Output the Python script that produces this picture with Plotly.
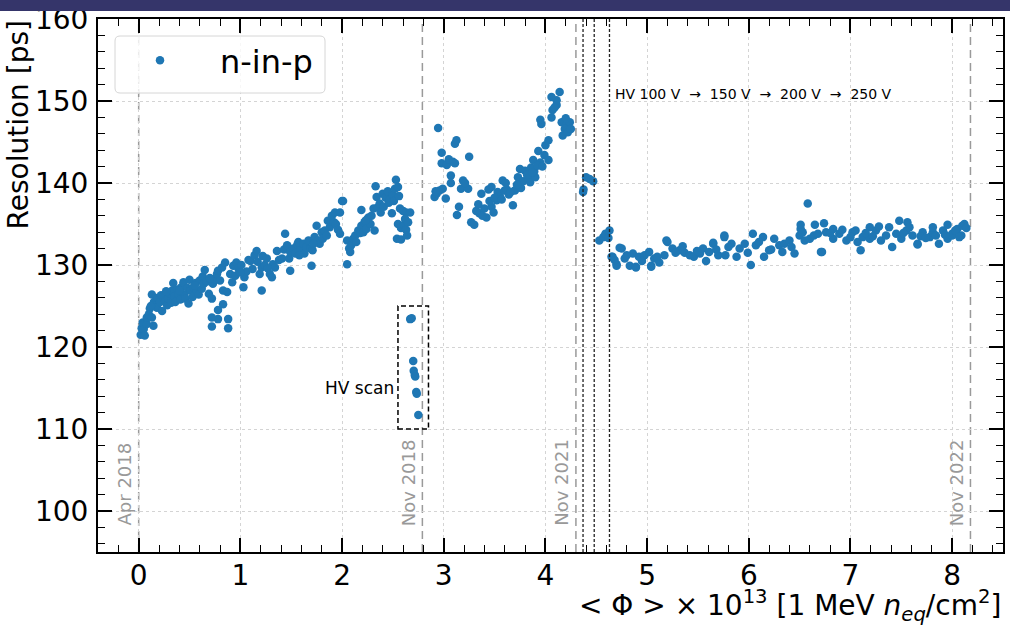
import plotly.graph_objects as go

# ---- data ----
seg2018_x = [0.02,0.03,0.05,0.06,0.04,0.08,0.08,0.10,0.11,0.13,0.13,0.145,0.15,0.16,0.18,0.19,0.21,0.22,0.23,0.24,
             0.26,0.28,0.29,0.30,0.32,0.33,0.34,0.35,0.36,0.38,0.39,0.41,0.42,0.44,0.45,0.46,0.48,0.49,0.50,0.51,
             0.53,0.54,0.56,0.57,0.59,0.60,0.62,0.63,0.64,0.65,0.67,0.69,0.72,0.73,0.75,0.77,0.78,0.80,0.82,0.83,
             0.85,0.87,0.78,0.83,0.78,0.72,0.72,0.88,0.88,0.90,0.92,0.93,0.95,0.96,0.98,0.99,1.01,1.03,1.04,1.06,
             1.08,1.10,1.12,1.14,1.16,1.17,1.19,1.21,1.22,1.21,1.24,1.26,1.29,1.31,1.32,1.34,1.36,1.38,1.41,1.43,
             1.44,1.46,1.48,1.49,1.49,1.52,1.54,1.56,1.57,1.59,1.62,1.63,1.65,1.67,1.69,1.70,1.71,1.73,1.75,1.76,
             1.78,1.80,1.81,1.83,1.85,1.86,1.88,1.90,1.92,1.93,1.94,1.96,1.98,1.98,2.00,2.01,2.05,2.05,2.07,2.08,
             2.09,2.11,2.13,2.14,2.16,2.18,2.19,2.19,2.21,2.22,2.24,2.25,2.26,2.28,2.29,2.31,2.32,2.34,2.33,2.35,
             2.37,2.38,2.40,2.41,2.43,2.45,2.46,2.47,2.49,2.50,2.51,2.52,2.53,2.55,2.56,2.57,2.60,2.63,2.67,2.55,
             2.58,2.61,2.63,2.54,2.58,2.64,2.62,2.65,0.12,0.27,0.40,0.55,0.70,1.00,1.27,1.58,1.72,2.23]
seg2018_y = [121.5,122.3,122.2,121.4,123.0,122.8,123.6,124.0,124.7,123.6,126.4,122.6,125.5,125.1,124.8,126.0,125.5,126.3,124.4,126.1,
             125.6,125.1,125.9,126.6,125.4,126.9,127.8,126.2,125.5,127.0,126.5,125.8,127.3,127.9,126.4,125.9,127.2,125.3,128.2,126.9,
             126.1,127.3,127.8,126.9,126.4,128.1,127.1,128.6,127.7,129.4,128.0,126.5,125.9,127.7,128.3,128.9,129.3,128.1,129.7,126.9,
             130.3,126.7,124.5,125.2,123.4,123.6,122.5,123.4,122.3,128.9,127.9,129.9,128.7,130.3,129.6,129.3,130.0,127.3,128.5,129.2,
             130.6,130.5,129.5,131.2,131.7,130.4,128.9,126.9,131.1,129.7,130.0,130.8,128.9,128.5,130.1,129.7,131.7,130.6,130.8,131.9,
             133.8,132.4,130.8,129.3,131.6,132.0,131.4,132.5,132.8,131.8,132.6,131.4,132.2,133.0,132.0,129.9,131.8,133.4,134.8,133.0,
             132.6,134.0,133.2,134.2,133.6,135.4,134.6,136.0,135.2,136.4,135.0,134.3,136.4,133.8,137.8,137.8,133.0,130.1,132.0,131.6,
             132.4,133.2,133.6,132.8,134.2,133.9,136.7,134.8,134.0,135.2,134.4,135.6,135.8,135.0,136.0,136.9,134.2,138.3,139.6,137.0,
             137.5,136.4,138.7,137.1,138.2,139.0,137.6,138.0,136.3,138.5,137.8,139.3,140.4,139.5,138.4,136.9,136.6,136.4,136.4,135.0,
             134.5,134.9,134.3,133.2,133.1,133.6,135.6,135.2,125.0,126.8,126.9,127.5,128.4,129.1,129.6,131.2,132.6,135.4]

hvscan_x = [2.67,2.685,2.70,2.705,2.715,2.72,2.73,2.735,2.75]
hvscan_y = [123.4,123.5,118.3,117.1,116.6,116.4,114.5,114.3,111.7]

seg2019_x = [2.91,2.93,2.96,2.99,3.02,2.945,2.98,2.98,3.03,3.09,3.11,3.07,3.07,3.11,3.125,3.25,3.19,3.17,3.24,3.21,
             3.15,3.13,3.27,3.30,3.37,3.47,3.44,3.35,3.40,3.42,3.38,3.47,3.49,3.52,3.55,3.53,3.58,3.60,3.62,3.64,
             3.68,3.70,3.76,3.73,3.75,3.78,3.80,3.83,3.85,3.86,3.88,3.89,3.90,3.93,3.95,3.99,4.03,4.00,4.03,3.96,
             3.95,4.06,4.07,4.11,4.11,4.14,4.06,4.09,4.16,4.21,4.24,4.19,4.17,4.22,4.25,4.20,3.32,3.45,3.50,3.57,
             3.66,3.72,3.82,3.92,3.97,2.92,3.05,3.34,3.61,3.87]
seg2019_y = [138.3,138.7,139.1,139.3,138.1,146.7,143.7,142.4,142.2,142.6,142.4,140.9,140.0,144.8,145.2,143.2,140.3,139.3,139.3,140.0,
             137.1,136.1,135.2,134.9,138.7,139.5,139.2,136.3,136.9,135.8,136.0,137.1,136.4,137.9,138.5,138.9,140.3,139.1,139.2,138.6,
             137.3,139.1,139.4,140.7,141.7,140.2,141.5,140.7,140.1,141.9,142.8,141.4,140.7,143.9,142.5,143.4,142.8,144.6,145.2,147.2,
             147.7,148.0,148.9,149.5,150.1,151.1,150.5,149.2,147.4,147.2,147.4,146.6,145.8,146.2,146.6,147.9,136.6,137.8,138.2,138.0,
             138.9,139.8,141.0,142.1,142.0,139.0,142.9,137.4,140.0,141.3]

seg2022_x = [4.37,4.375,4.40,4.435,4.47,4.53,4.57,4.59,4.63,4.62,
             4.66,4.70,4.75,4.78,4.83,4.86,4.89,4.92,4.975,5.02,5.04,5.07,5.12,5.17,5.20,5.25,5.32,5.37,5.42,5.46,
             5.52,5.55,5.58,5.61,5.65,5.70,5.76,5.77,5.83,5.88,5.91,5.96,6.02,6.04,6.07,6.14,6.15,6.20,6.25,6.30,
             6.35,6.40,6.45,6.50,6.51,6.58,6.51,6.65,6.74,6.72,6.60,6.64,6.71,6.76,6.83,6.89,6.96,7.02,7.07,7.12,
             7.19,7.25,7.30,7.35,7.41,7.45,7.50,7.55,7.61,7.66,7.71,7.78,7.81,7.87,7.91,7.955,8.00,8.05,8.10,8.12,
             7.955,7.81,7.48,7.56,7.19,7.28,7.05,6.83,6.53,7.66,7.10,8.00,8.09,5.76,5.19,5.65,4.73,4.70,4.89,5.04,
             4.65,4.68,4.80,4.95,5.10,5.28,5.35,5.49,5.68,5.80,5.99,6.10,6.22,6.33,6.42,6.55,6.68,6.80,6.92,7.00,
             7.15,7.22,7.38,7.52,7.58,7.69,7.74,7.84,7.93,8.03,8.07,8.14]
seg2022_y = [138.9,139.2,140.7,140.5,140.2,133.0,133.4,133.8,134.2,133.3,
             131.0,130.1,132.0,130.8,129.9,131.4,129.7,131.0,131.2,131.6,129.9,130.8,130.3,131.2,132.8,132.0,131.8,131.5,131.2,131.0,
             131.4,132.0,130.5,131.6,132.6,131.2,133.4,131.2,132.6,131.0,132.0,132.6,130.0,133.8,132.4,133.4,131.0,131.8,133.2,132.4,
             132.6,133.0,131.4,133.6,134.4,137.5,134.9,134.9,135.1,131.6,133.2,133.6,131.6,134.0,133.2,133.8,133.0,134.0,132.8,133.4,
             133.2,134.2,133.0,133.6,132.2,133.8,133.2,134.2,133.6,132.6,134.0,133.4,134.0,132.6,134.2,133.2,133.8,134.4,134.8,135.0,
             134.9,134.6,135.4,135.2,134.6,134.7,134.2,134.4,134.0,132.5,131.8,133.6,133.6,133.6,133.0,132.7,132.1,129.9,129.8,129.8,
             131.0,130.6,131.2,130.5,131.0,131.5,132.3,131.7,131.9,132.2,131.5,132.8,131.9,131.6,132.2,133.0,133.8,133.9,134.3,133.4,
             133.9,133.5,134.6,133.9,134.6,133.5,133.3,133.6,133.7,134.2,133.4,134.5]

x_tick_vals = [0, 1, 2, 3, 4, 5, 6, 7, 8]
y_tick_vals = [100, 110, 120, 130, 140, 150, 160]

date_x = [0.0, 2.79, 4.30, 8.18]
date_labels = ["Apr 2018", "Nov 2018", "Nov 2021", "Nov 2022"]
hv_step_x = [4.37, 4.48, 4.63]
hvscan_box = [2.55, 2.85, 110, 125]

all_x = seg2018_x + hvscan_x + seg2019_x + seg2022_x
all_y = seg2018_y + hvscan_y + seg2019_y + seg2022_y

FONT = "DejaVu Sans, Liberation Sans, sans-serif"
BIG = 28

fig = go.Figure()
fig.add_trace(go.Scatter(
    x=all_x, y=all_y, mode="markers", name="n-in-p",
    marker=dict(color="#1f77b4", size=8.5, line=dict(width=0)),
))

shapes = []
for xv in date_x:
    shapes.append(dict(type="line", xref="x", yref="paper", x0=xv, x1=xv, y0=0, y1=1,
                       line=dict(color="#9a9a9a", width=1.5, dash="8px,5px"), layer="between"))
for xv in hv_step_x:
    shapes.append(dict(type="line", xref="x", yref="paper", x0=xv, x1=xv, y0=0, y1=1,
                       line=dict(color="#222222", width=1.3, dash="3px,2px"), layer="above"))
shapes.append(dict(type="rect", xref="x", yref="y", x0=hvscan_box[0], x1=hvscan_box[1],
                   y0=hvscan_box[2], y1=hvscan_box[3],
                   line=dict(color="black", width=1.5, dash="5px,3px"), layer="above"))

# legend frame (rounded)
px2x = lambda p: (p - 98) / 905
py2y = lambda p: (552 - p) / 533
x0, x1, y0, y1 = px2x(115), px2x(325), py2y(93), py2y(36)
rx, ry = 5 / 905, 5 / 533
path = (f"M {x0+rx},{y1} L {x1-rx},{y1} Q {x1},{y1} {x1},{y1-ry} L {x1},{y0+ry} Q {x1},{y0} {x1-rx},{y0} "
        f"L {x0+rx},{y0} Q {x0},{y0} {x0},{y0+ry} L {x0},{y1-ry} Q {x0},{y1} {x0+rx},{y1} Z")
shapes.append(dict(type="path", xref="paper", yref="paper", path=path,
                   line=dict(color="#d6d6d6", width=1), fillcolor="rgba(255,255,255,0.8)", layer="above"))
# header bar
shapes.append(dict(type="rect", xref="paper", yref="paper", x0=px2x(-5), x1=px2x(1015), y0=py2y(11), y1=py2y(-5),
                   line=dict(width=0), fillcolor="#35356a", layer="above"))

annotations = []
for xv, lab in zip(date_x, date_labels):
    annotations.append(dict(x=xv, y=97.95, xref="x", yref="y", text=lab, textangle=-90, showarrow=False,
                            xanchor="right", yanchor="bottom", xshift=-2,
                            font=dict(family=FONT, size=18, color="#999999")))
annotations.append(dict(x=4.65, y=150.9, xref="x", yref="y", text="HV 100 V  →  150 V  →  200 V  →  250 V",
                        showarrow=False, xanchor="left", yanchor="middle", xshift=1,
                        font=dict(family=FONT, size=14, color="black")))
annotations.append(dict(x=2.55, y=115.0, xref="x", yref="y", text="HV scan", showarrow=False,
                        xanchor="right", yanchor="middle", xshift=-2,
                        font=dict(family=FONT, size=17, color="black")))
annotations.append(dict(x=1.0, y=py2y(628), xref="paper", yref="paper",
                        text="&lt; Φ &gt; × 10<sup>13</sup> [1 MeV <i>n</i><sub><i>eq</i></sub>/cm<sup>2</sup>]",
                        showarrow=False, xanchor="right", yanchor="bottom",
                        font=dict(family=FONT, size=BIG, color="black")))
annotations.append(dict(x=px2x(18), y=py2y(19), xref="paper", yref="paper", text="Resolution [ps]", textangle=-90,
                        showarrow=False, xanchor="center", yanchor="top",
                        font=dict(family=FONT, size=BIG, color="black")))

axis_common = dict(
    showline=True, linecolor="black", linewidth=2, mirror="allticks",
    ticks="inside", ticklen=14, tickwidth=1.6, tickcolor="black",
    showgrid=True, gridcolor="#d4d4d4", griddash="dot", gridwidth=1,
    zeroline=False, tickfont=dict(family=FONT, size=BIG, color="black"),
    automargin=False,
)
fig.update_xaxes(range=[-0.4, 8.5], tickvals=x_tick_vals, ticklabelstandoff=-3,
                 minor=dict(dtick=0.2, tick0=0, ticks="inside", ticklen=7, tickwidth=1.3, tickcolor="black", showgrid=False),
                 **axis_common)
fig.update_yaxes(range=[95, 160], tickvals=y_tick_vals, ticklabelstandoff=2,
                 minor=dict(dtick=2, tick0=0, ticks="inside", ticklen=7, tickwidth=1.3, tickcolor="black", showgrid=False),
                 **axis_common)

fig.update_layout(
    width=1010, height=627,
    margin=dict(l=98, r=7, t=19, b=75, autoexpand=False),
    paper_bgcolor="white", plot_bgcolor="white",
    shapes=shapes, annotations=annotations,
    showlegend=True,
    legend=dict(x=px2x(100), y=py2y(33), xanchor="left", yanchor="top", bgcolor="rgba(0,0,0,0)",
                borderwidth=0, itemwidth=110, font=dict(family=FONT, size=32, color="black")),
    font=dict(family=FONT),
)

fig.write_html("out.html", config={"displayModeBar": False},
               post_script="document.body.style.margin='0px';document.body.style.overflow='hidden';")
